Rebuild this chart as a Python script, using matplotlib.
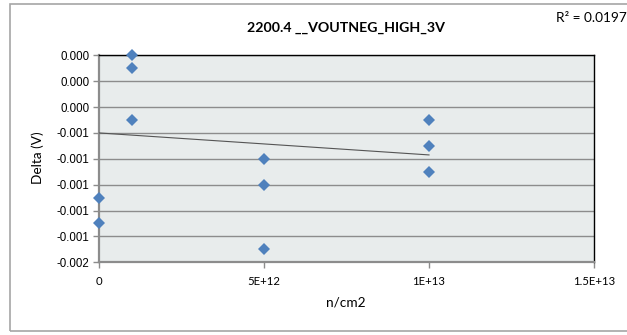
import matplotlib
matplotlib.use("Agg")
import matplotlib.pyplot as plt
from matplotlib.patches import Rectangle

fluence = [0, 0, 1e12, 1e12, 1e12, 5e12, 5e12, 5e12, 1e13, 1e13, 1e13]
delta = [-0.0011, -0.0013, 0.0000, -0.0001, -0.0005,
         -0.0008, -0.0010, -0.0015, -0.0005, -0.0007, -0.0009]

# linear trendline end points as drawn
trend_x = [0, 1e13]
trend_y = [-0.00060, -0.00077]

x_ticks = [0, 5e12, 1e13, 1.5e13]
x_tick_labels = ['0', '5E+12', '1E+13', '1.5E+13']
y_ticks = [0.0, -0.0002, -0.0004, -0.0006, -0.0008, -0.0010, -0.0012, -0.0014, -0.0016]
y_tick_labels = ['0.000', '0.000', '0.000', '-0.001', '-0.001', '-0.001', '-0.001', '-0.001', '-0.002']

title = '2200.4 __VOUTNEG_HIGH_3V'
r2_text = 'R\u00b2 = 0.0197'

plt.rcParams['font.family'] = ['Lato', 'DejaVu Sans']

fig = plt.figure(figsize=(6.27, 3.35), dpi=100)
fig.patch.set_facecolor('white')

# chart frame
fig.patches.append(Rectangle((0.0152, 0.0119), 1.0, 0.976, transform=fig.transFigure,
                             fill=False, edgecolor='#a6a6a6', linewidth=1.2))

ax = fig.add_axes([0.1579, 0.2170, 0.7895, 0.6179])
ax.set_facecolor('#e8ecec')

ax.set_xlim(0, 1.5e13)
ax.set_ylim(-0.0016, 0.0)
ax.set_xticks(x_ticks)
ax.set_xticklabels(x_tick_labels, fontsize=8.2)
ax.set_yticks(y_ticks)
ax.set_yticklabels(y_tick_labels, fontsize=8.3, family='Liberation Sans')

ax.grid(axis='y', color='#8c8c8c', linewidth=1.0)
ax.set_axisbelow(True)

for side in ['top', 'right']:
    ax.spines[side].set_color('black')
    ax.spines[side].set_linewidth(1.0)
for side in ['left', 'bottom']:
    ax.spines[side].set_color('#8c8c8c')
    ax.spines[side].set_linewidth(1.6)
ax.tick_params(axis='both', direction='out', length=4, width=1, color='#8c8c8c',
               labelcolor='black')
ax.tick_params(axis='x', pad=6)
ax.tick_params(axis='y', pad=3)

ax.plot(trend_x, trend_y, color='#555555', linewidth=0.8, zorder=3)
ax.plot(fluence, delta, linestyle='none', marker='D', markersize=6.2,
        color='#4f81bd', markeredgewidth=0, zorder=4, clip_on=False)

fig.text(0.552, 0.916, title, ha='center', va='center', fontsize=10.2, fontweight='bold')
fig.text(0.999, 0.946, r2_text, ha='right', va='center', fontsize=9.8)
fig.text(0.0606, 0.528, 'Delta (V)', ha='center', va='center', rotation=90, fontsize=9.8)
fig.text(0.552, 0.0985, 'n/cm2', ha='center', va='center', fontsize=9.8)

fig.savefig('out.png', dpi=100)
